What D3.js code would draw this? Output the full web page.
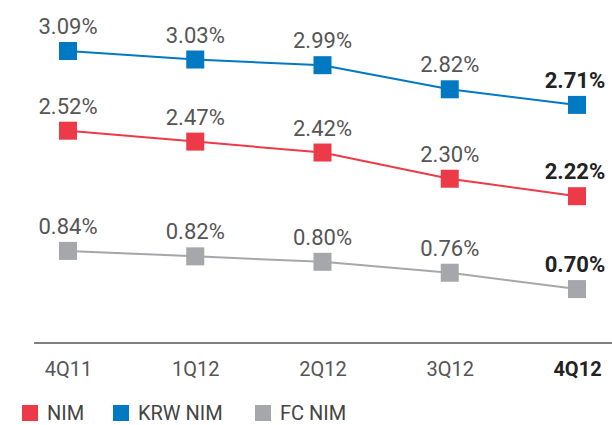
<!DOCTYPE html>
<html>
<head>
<meta charset="utf-8">
<script src="https://cdn.jsdelivr.net/npm/d3@7"></script>
<style>
  html, body { margin: 0; padding: 0; background: #fff; }
  svg { display: block; }
  text { font-family: Roboto, "Noto Sans", sans-serif; }
</style>
</head>
<body>
<svg id="chart" width="612" height="425"></svg>
<script>
const categories = ["4Q11", "1Q12", "2Q12", "3Q12", "4Q12"];
const krwNim = [3.09, 3.03, 2.99, 2.82, 2.71];
const nim = [2.52, 2.47, 2.42, 2.30, 2.22];
const fcNim = [0.84, 0.82, 0.80, 0.76, 0.70];
const seriesNames = ["NIM", "KRW NIM", "FC NIM"];

const colors = { "NIM": "#EC3A48", "KRW NIM": "#0079C2", "FC NIM": "#A6A7AB" };

const svg = d3.select("#chart");
const x = d3.scalePoint().domain(categories).range([68, 577]);

// each series occupies its own vertical band (stylized chart)
const series = [
  { name: "KRW NIM", values: krwNim, y: d3.scaleLinear().domain([2.71, 3.09]).range([104.9, 51.0]) },
  { name: "NIM", values: nim, y: d3.scaleLinear().domain([2.22, 2.52]).range([196.2, 130.7]) },
  { name: "FC NIM", values: fcNim, y: d3.scaleLinear().domain([0.70, 0.84]).range([289.1, 250.9]) }
];

const line = (s) => d3.line()
  .x((d, i) => x(categories[i]))
  .y(d => s.y(d))(s.values);

// lines
svg.append("g").selectAll("path").data(series).join("path")
  .attr("d", s => line(s))
  .attr("fill", "none")
  .attr("stroke", s => colors[s.name])
  .attr("stroke-width", 2);

// markers and value labels
const m = 18;
const last = categories.length - 1;
series.forEach(s => {
  svg.append("g").selectAll("rect").data(s.values).join("rect")
    .attr("x", (d, i) => x(categories[i]) - m / 2)
    .attr("y", d => s.y(d) - m / 2)
    .attr("width", m).attr("height", m)
    .attr("fill", colors[s.name]);
  svg.append("g").selectAll("text").data(s.values).join("text")
    .attr("x", (d, i) => x(categories[i]) - (i === last ? 2 : 0))
    .attr("y", d => s.y(d) - 17)
    .attr("text-anchor", "middle")
    .attr("font-size", 22)
    .attr("font-weight", (d, i) => i === last ? 700 : 400)
    .attr("fill", (d, i) => i === last ? "#222" : "#555")
    .text(d => d.toFixed(2) + "%");
});

// axis baseline
svg.append("line")
  .attr("x1", 34).attr("x2", 612)
  .attr("y1", 343).attr("y2", 343)
  .attr("stroke", "#555").attr("stroke-width", 1.5);

const axis = svg.append("g")
  .attr("transform", "translate(0,343)")
  .call(d3.axisBottom(x).tickSize(0).tickPadding(19));
axis.select(".domain").remove();
axis.selectAll(".tick text")
  .attr("font-family", "Roboto, sans-serif")
  .attr("font-size", 20)
  .attr("fill", (d, i) => i === last ? "#222" : "#555")
  .attr("font-weight", (d, i) => i === last ? 700 : 400);

// legend
const legendX = [22, 113, 255];
const lg = svg.append("g").selectAll("g").data(seriesNames).join("g")
  .attr("transform", (d, i) => `translate(${legendX[i]},404)`);
lg.append("rect").attr("y", 1).attr("width", 16).attr("height", 16).attr("fill", d => colors[d]);
lg.append("text").attr("x", 25).attr("y", 16)
  .attr("font-size", 20).attr("fill", "#444").text(d => d);
</script>
</body>
</html>
